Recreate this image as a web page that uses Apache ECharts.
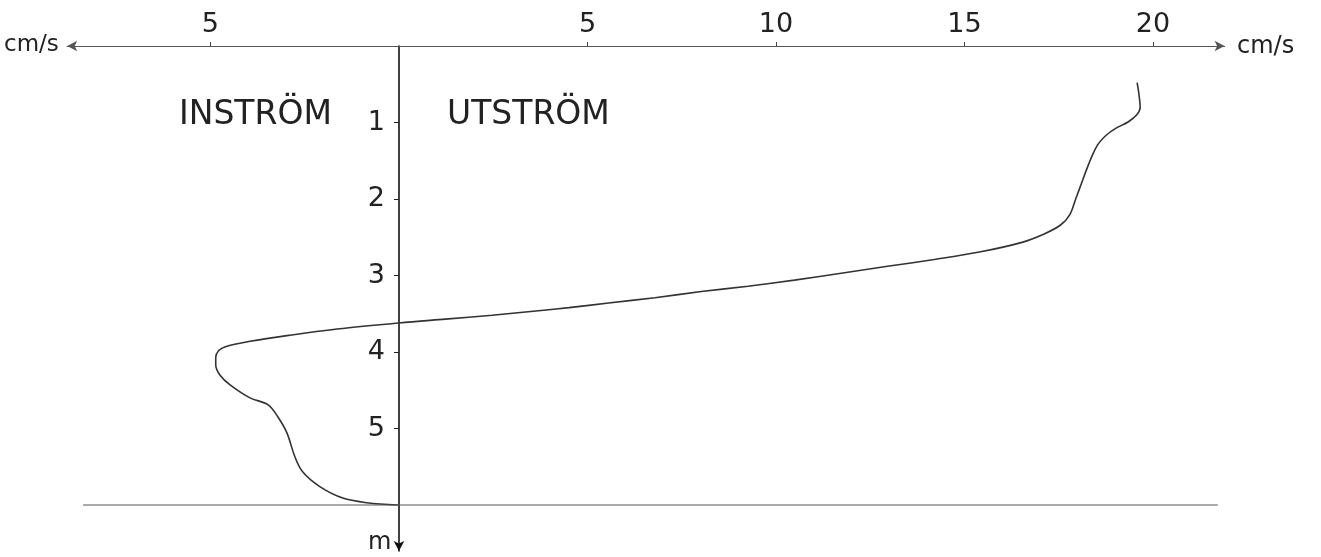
<!DOCTYPE html>
<html>
<head>
<meta charset="utf-8">
<script src="https://cdn.jsdelivr.net/npm/echarts@6/dist/echarts.min.js"></script>
<style>html,body{margin:0;padding:0;background:#fff}#c{width:1321px;height:557px}</style>
</head>
<body>
<div id="c"></div>
<script>
// velocity (cm/s, negative = instrom) and depth (m) along the hand-drawn profile
const velocity = [19.58,19.63,19.66,19.57,19.35,19.00,18.75,18.55,18.40,18.25,18.10,17.95,17.80,17.55,17.10,16.50,15.43,14.20,12.96,11.73,10.49,9.26,8.02,6.79,5.56,4.51,3.70,2.47,1.23,0.00,-1.64,-2.89,-3.95,-4.60,-4.78,-4.86,-4.86,-4.75,-4.48,-3.95,-3.47,-3.21,-2.97,-2.76,-2.55,-2.10,-1.49,-0.85,-0.03];
const depth    = [0.48,0.64,0.80,0.90,0.99,1.08,1.17,1.28,1.42,1.60,1.80,2.00,2.20,2.34,2.46,2.57,2.69,2.79,2.88,2.97,3.06,3.14,3.21,3.29,3.36,3.42,3.46,3.52,3.57,3.62,3.70,3.78,3.86,3.93,3.98,4.07,4.17,4.30,4.43,4.60,4.69,4.85,5.06,5.37,5.57,5.76,5.91,5.97,6.00];
const xTicks = [-5, 5, 10, 15, 20];
const yTicks = [1, 2, 3, 4, 5];
const bottomLineX = [-8.38, 21.72];
const bottomDepth = 6;

const chart = echarts.init(document.getElementById('c'), null, {renderer: 'canvas'});
const font = 'DejaVu Sans';
const xMin = -8.8, xMax = 21.9, gridLeft = 67.2, gridRight = 96.4;
const plotW = 1321 - gridLeft - gridRight;
const zeroOffset = -(0 - xMin) / (xMax - xMin) * plotW; // moves the depth axis to velocity 0
chart.setOption({
  animation: false,
  backgroundColor: '#fff',
  grid: {left: gridLeft, right: gridRight, top: 46, bottom: 6.1},
  xAxis: {
    type: 'value', position: 'top', min: xMin, max: xMax,
    splitLine: {show: false},
    axisLine: {show: true, onZero: false, symbol: ['arrow', 'arrow'], symbolSize: [8, 10],
      lineStyle: {color: '#555', width: 1.2}},
    axisTick: {show: true, customValues: xTicks, length: 4, inside: false, lineStyle: {color: '#444'}},
    axisLabel: {show: true, customValues: xTicks, margin: 8, fontFamily: font, fontSize: 27, color: '#222',
      formatter: v => String(Math.abs(v))}
  },
  yAxis: {
    type: 'value', inverse: true, min: 0, max: 6.6, position: 'left', offset: zeroOffset,
    splitLine: {show: false},
    axisLine: {show: true, onZero: false, symbol: ['arrow', 'none'], symbolSize: [8, 10],
      lineStyle: {color: '#111', width: 1.6}},
    axisTick: {show: true, customValues: yTicks, length: 5, inside: false, lineStyle: {color: '#222'}},
    axisLabel: {show: true, customValues: yTicks, margin: 14, fontFamily: font, fontSize: 27, color: '#222'}
  },
  series: [
    {
      type: 'line', data: velocity.map((v, i) => [v, depth[i]]),
      smooth: 0.35, showSymbol: false, lineStyle: {color: '#333', width: 1.6}
    },
    {
      type: 'line', data: bottomLineX.map(v => [v, bottomDepth]),
      showSymbol: false, lineStyle: {color: '#555', width: 1.2}
    }
  ],
  graphic: [
    {type: 'text', left: 4, top: 34, style: {text: 'cm/s', font: '23px "' + font + '"', fill: '#222'}},
    {type: 'text', left: 1237, top: 35, style: {text: 'cm/s', font: '24px "' + font + '"', fill: '#222'}},
    {type: 'text', left: 179, top: 99, style: {text: 'INSTRÖM', font: '33px "' + font + '"', fill: '#222'}},
    {type: 'text', left: 447, top: 99, style: {text: 'UTSTRÖM', font: '33px "' + font + '"', fill: '#222'}},
    {type: 'text', left: 368, top: 531, style: {text: 'm', font: '24px "' + font + '"', fill: '#222'}}
  ]
});
</script>
</body>
</html>
